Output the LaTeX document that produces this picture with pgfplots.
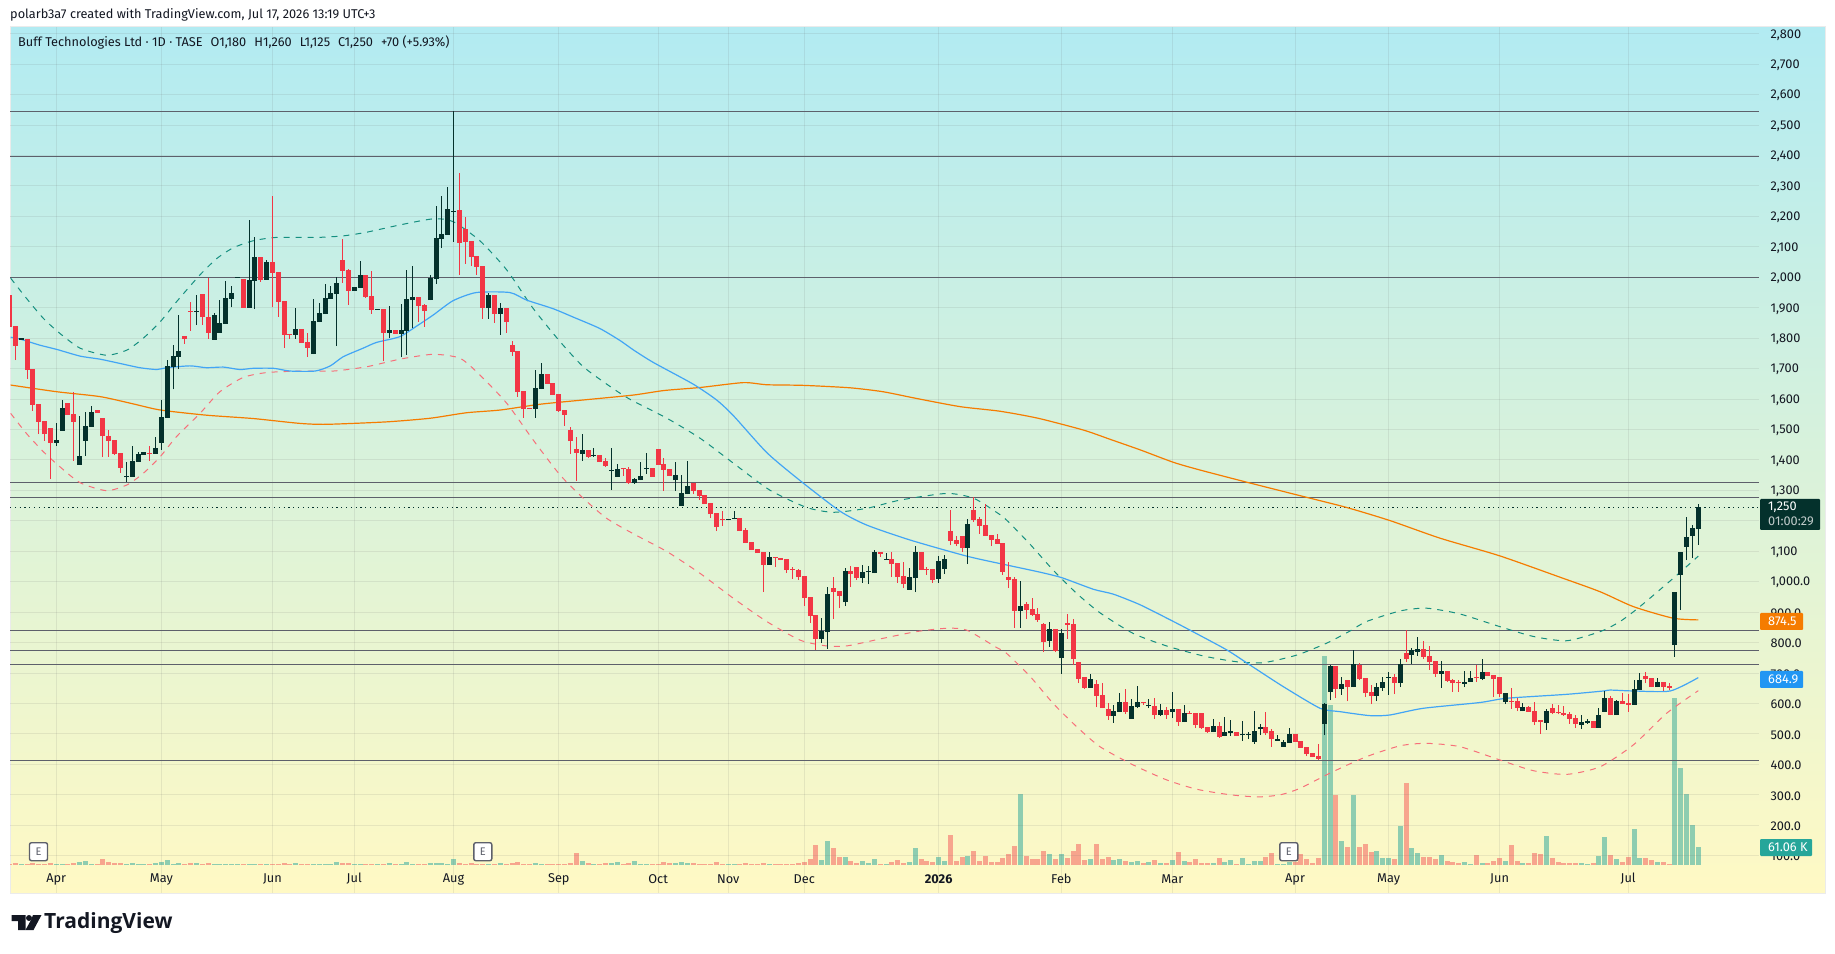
\documentclass[border=0pt]{standalone}
\usepackage{pgfplots}
\usepackage{pgfplotstable}
\pgfplotsset{compat=1.18}
\usepackage{fontspec}
\setmainfont{Fira Sans}
\newfontfamily\logofont{Open Sans}
\definecolor{upc}{HTML}{04312C}
\definecolor{dnc}{HTML}{F23645}
\definecolor{volup}{HTML}{8ECDB0}
\definecolor{voldn}{HTML}{F7A58D}
\definecolor{txt}{HTML}{131722}
\definecolor{lvl}{HTML}{5D606B}
\definecolor{mablue}{HTML}{42A5F5}
\definecolor{maor}{HTML}{F57C00}
\definecolor{bbup}{HTML}{158F80}
\definecolor{bbdn}{HTML}{F7707A}
\definecolor{bgtop}{HTML}{B2EBF2}
\definecolor{bgbot}{HTML}{FFF9C4}
\definecolor{tagblue}{HTML}{2196F3}
\definecolor{tagteal}{HTML}{26A69A}
\pgfplotstableread{
x o h l c v
0 1942 1945 1838 1838 2.3
1 1840 1840 1728 1775 5.6
2 1795 1798 1795 1798 2.3
3 1797 1797 1666 1697 2.3
4 1699 1699 1562 1581 6.8
5 1584 1584 1485 1525 2.3
6 1528 1528 1463 1485 2.3
7 1505 1505 1337 1457 5.6
8 1457 1520 1446 1465 2.3
9 1496 1597 1496 1571 2.3
10 1587 1587 1549 1549 2.3
11 1551 1624 1398 1525 5.6
12 1384 1544 1384 1413 10.2
13 1463 1558 1413 1512 13.6
14 1509 1577 1509 1558 2.3
15 1564 1564 1555 1555 2.3
16 1538 1538 1409 1477 20.3
17 1479 1498 1411 1463 10.2
18 1465 1465 1416 1420 5.6
19 1424 1424 1358 1374 5.6
20 1343 1393 1329 1345 2.3
21 1345 1446 1345 1397 5.6
22 1394 1427 1394 1420 2.3
23 1417 1426 1417 1426 2.3
24 1424 1446 1398 1420 2.3
25 1420 1474 1420 1439 5.6
26 1457 1597 1433 1541 10.2
27 1539 1728 1539 1709 17
28 1706 1778 1632 1742 2.3
29 1739 1876 1698 1758 5.6
30 1807 1807 1781 1797 2.3
31 1890 1919 1825 1886 5.6
32 1886 1942 1843 1888 5.6
33 1945 1945 1844 1869 2.3
34 1871 1999 1798 1818 5.6
35 1795 1884 1795 1876 2.3
36 1818 1925 1818 1850 2.3
37 1848 1988 1848 1932 2.3
38 1930 1971 1901 1948 2.3
39 1998 2000 1998 2000 2.3
40 1993 1993 1900 1900 2.3
41 1900 2188 1900 1991 2.3
42 1989 2131 1897 2067 2.3
43 2067 2067 1985 1991 2.3
44 1992 2057 1992 2050 2.3
45 2050 2267 1904 2015 2.3
46 2017 2017 1871 1920 2.3
47 1922 1922 1769 1812 5.6
48 1814 1814 1798 1811 2.3
49 1812 1899 1798 1830 5.6
50 1830 1830 1784 1784 2.3
51 1788 1818 1739 1768 2.3
52 1748 1929 1748 1856 2.3
53 1853 1917 1853 1883 2.3
54 1879 1978 1879 1932 2.3
55 1930 1971 1930 1948 2.3
56 1945 2000 1774 1981 10.2
57 2057 2126 1982 2021 5.6
58 2024 2027 1909 1955 5.6
59 1955 1968 1955 1968 2.3
60 1965 2054 1965 2008 2.3
61 2008 2008 1932 1935 2.3
62 1939 2021 1880 1893 2.3
63 1893 1895 1893 1895 2.3
64 1896 1896 1725 1817 2.3
65 1817 1906 1801 1827 5.6
66 1827 1827 1814 1814 2.3
67 1814 1912 1738 1827 2.3
68 1824 2024 1745 1929 10.2
69 1925 2037 1832 1935 2.3
70 1935 1935 1854 1906 2.3
71 1909 1912 1838 1889 2.3
72 1925 2008 1925 1998 5.6
73 1994 2234 1978 2129 5.6
74 2126 2267 2096 2142 5.6
75 2139 2297 2139 2224 2.3
76 2214 2545 2116 2219 20.3
77 2221 2343 2008 2113 5.6
78 2159 2198 2044 2116 2.3
79 2119 2119 2037 2067 5.6
80 2070 2070 2008 2035 2.3
81 2037 2037 1864 1899 2.3
82 1899 1950 1864 1942 2.3
83 1942 1942 1851 1880 2.3
84 1880 1916 1812 1899 5.6
85 1899 1899 1818 1853 2.3
86 1778 1791 1743 1756 5.6
87 1758 1758 1607 1623 9
88 1627 1627 1539 1567 2.3
89 1570 1570 1567 1567 2.3
90 1567 1696 1539 1636 5.6
91 1633 1718 1633 1682 2.3
92 1682 1682 1650 1650 2.3
93 1653 1653 1613 1613 2.3
94 1617 1617 1558 1561 2.3
95 1564 1564 1513 1548 2.3
96 1498 1508 1420 1462 5.6
97 1436 1475 1331 1423 40.7
98 1420 1485 1397 1433 13.6
99 1433 1433 1406 1410 5.6
100 1412 1439 1410 1414 2.3
101 1416 1416 1393 1393 2.3
102 1397 1406 1376 1380 5.6
103 1364 1439 1301 1366 5.6
104 1344 1387 1344 1370 9
105 1371 1373 1347 1369 2.3
106 1370 1377 1321 1324 5.6
107 1324 1341 1321 1337 13.6
108 1334 1393 1334 1347 2.3
109 1371 1423 1354 1373 2.3
110 1374 1374 1344 1344 2.3
111 1436 1436 1384 1384 2.3
112 1387 1406 1298 1367 10.2
113 1370 1370 1347 1347 5.6
114 1334 1393 1298 1351 5.6
115 1250 1350 1250 1291 9
116 1288 1396 1288 1314 5.6
117 1324 1324 1288 1298 5.6
118 1301 1301 1268 1281 2.3
119 1285 1285 1255 1255 2.3
120 1258 1258 1209 1222 2.3
121 1226 1226 1166 1180 9
122 1205 1232 1183 1203 2.3
123 1203 1207 1203 1207 2.3
124 1206 1232 1205 1208 2.3
125 1209 1209 1166 1166 2.3
126 1170 1176 1127 1127 5.6
127 1130 1130 1104 1104 2.3
128 1107 1107 1094 1094 2.3
129 1097 1097 966 1055 5.6
130 1055 1097 1055 1081 2.3
131 1080 1080 1048 1078 2.3
132 1078 1078 1071 1071 2.3
133 1074 1074 1028 1038 2.3
134 1041 1048 1009 1039 2.3
135 1038 1042 1005 1015 5.6
136 1019 1019 920 946 10.2
137 950 950 864 887 20.3
138 890 890 775 812 67.8
139 812 881 798 839 17
140 835 982 779 959 81.4
141 979 1015 877 966 57.6
142 969 969 913 953 27.1
143 933 1045 920 1035 27.1
144 1035 1051 982 1025 13.6
145 1048 1048 1005 1012 5.6
146 1012 1055 996 1032 13.6
147 1031 1051 992 1033 5.6
148 1028 1104 1028 1097 20.3
149 1097 1097 1081 1091 2.3
150 1072 1094 1072 1074 2.3
151 1074 1097 1015 1058 10.2
152 1061 1061 996 1015 17
153 1019 1065 979 992 5.6
154 973 1045 973 1015 10.2
155 1012 1117 966 1097 57.6
156 1097 1097 1038 1038 20.3
157 1042 1048 1022 1038 13.6
158 1041 1041 996 1005 10.2
159 1009 1084 996 1068 27.1
160 1042 1088 1025 1074 13.6
161 1165 1235 1120 1134 101.7
162 1137 1150 1117 1124 13.6
163 1150 1150 1097 1111 27.1
164 1111 1206 1058 1189 30.5
165 1235 1277 1196 1203 47.5
166 1206 1212 1157 1183 13.6
167 1186 1255 1150 1150 30.5
168 1153 1153 1117 1137 10.2
169 1140 1157 1124 1124 10.2
170 1127 1127 1022 1032 23.7
171 1015 1065 979 1006 37.3
172 1009 1015 848 904 64.4
173 904 1002 848 920 241
174 927 933 877 907 30.5
175 910 947 887 891 20.3
176 894 914 868 874 20.3
177 861 864 769 802 47.5
178 805 868 786 845 37.3
179 845 845 769 772 20.3
180 749 845 697 832 37.3
181 864 894 812 858 23.7
182 861 878 726 746 47.5
183 736 736 667 680 71.2
184 687 687 648 651 17
185 651 697 651 680 20.3
186 664 677 588 625 71.2
187 628 667 585 585 20.3
188 582 602 546 559 27.1
189 559 595 536 575 17
190 572 634 572 605 20.3
191 605 648 565 572 13.6
192 549 615 549 592 10.2
193 588 657 585 605 13.6
194 605 605 595 602 6.8
195 590 615 585 592 10.2
196 592 618 549 562 17
197 562 598 559 579 6.8
198 579 588 549 562 6.8
199 572 638 552 582 17
200 582 582 526 539 44.1
201 539 595 539 569 13.6
202 569 575 565 565 10.2
203 569 569 519 529 20.3
204 569 569 517 519 6.8
205 523 523 503 506 6.8
206 506 549 506 526 6.8
207 526 539 487 490 23.7
208 493 556 493 506 10.2
209 504 546 493 506 17
210 506 506 493 493 3.4
211 495 542 477 497 23.7
212 497 506 483 499 3.4
213 473 575 467 510 13.6
214 516 533 496 523 13.6
215 523 572 496 503 27.1
216 510 516 457 483 40.7
217 478 496 477 480 3.4
218 457 480 457 473 3.4
219 470 519 470 500 10.2
220 500 500 473 473 10.2
221 477 477 454 454 37.3
222 457 457 427 434 20.3
223 437 437 424 424 6.8
224 427 467 414 418 23.7
225 533 602 496 598 709
226 638 726 611 723 542
227 723 723 618 648 237
228 648 687 628 664 81.4
229 677 677 608 654 61
230 654 776 654 730 237
231 726 733 677 680 61
232 684 684 621 634 71.2
233 638 661 598 625 44.1
234 625 667 608 654 47.5
235 651 687 641 671 23.7
236 684 703 628 686 23.7
237 687 697 631 667 20.3
238 667 746 654 730 132
239 766 840 736 746 278
240 759 782 730 776 57.6
241 769 818 756 779 40.7
242 779 805 746 753 27.1
243 756 789 710 736 27.1
244 740 740 687 697 20.3
245 697 740 651 707 33.9
246 707 707 671 674 13.6
247 677 680 638 667 10.2
248 672 677 638 666 6.8
249 664 707 654 671 10.2
250 671 707 671 684 3.4
251 684 726 671 682 33.9
252 680 746 677 703 6.8
253 703 703 690 690 6.8
254 694 694 621 680 13.6
255 687 687 621 631 23.7
256 605 634 598 634 13.6
257 607 651 582 605 67.8
258 608 618 575 585 13.6
259 575 602 575 588 6.8
260 588 592 572 572 6.8
261 575 605 529 539 40.7
262 542 542 500 540 37.3
263 536 582 513 575 98.3
264 585 597 565 569 23.7
265 570 595 564 568 10.2
266 569 592 559 562 6.8
267 565 572 533 549 6.8
268 552 562 520 533 6.8
269 529 562 516 539 6.8
270 536 549 533 542 3.4
271 542 542 520 520 6.8
272 520 585 520 562 30.5
273 572 641 572 618 94.9
274 618 625 562 562 33.9
275 562 611 562 608 20.3
276 608 634 598 598 10.2
277 602 631 572 595 27.1
278 595 677 595 648 122
279 644 700 644 677 23.7
280 690 703 667 680 23.7
281 684 684 654 654 17
282 654 684 654 671 10.2
283 671 671 641 654 10.2
284 657 667 644 651 3.4
285 792 966 754 966 566
286 1022 1098 907 1098 329
287 1114 1214 1071 1147 241
288 1150 1186 1078 1176 135.6
289 1173 1255 1121 1245 61.06
}\candles
\pgfplotstableread{
x y
0.2 1803
1.8 1797
5.2 1777
8.1 1763
12.1 1741
15.5 1731
18.9 1717
22.3 1703
25.2 1697
26.9 1703
30.9 1709
33.7 1703
36.6 1705
39.4 1697
41.7 1701
45.2 1701
48 1692
52.3 1692
54.9 1709
57.1 1739
60.5 1767
62.8 1786
66.8 1805
69.7 1840
72.5 1876
75.9 1923
79.9 1950
85.6 1950
88.5 1925
93 1897
96.5 1869
101 1832
104.5 1792
106.8 1761
110.2 1720
117 1649
121 1597
123.9 1545
129.6 1424
135.3 1332
142.1 1232
146.7 1186
154.1 1137
163.8 1084
170.6 1055
176.4 1031
180.1 1013
185.5 975
188.9 959
193.5 924
199.2 869
201.7 844
208.3 776
212.3 726
218 655
224.3 584
227.7 573
232.8 560
236.2 562
241.9 584
251.6 603
256.2 617
266.5 630
272.8 641
273.9 644
277.9 641
284.2 641
289 684.9
}\mablue
\pgfplotstableread{
x y
0.2 1646
8.1 1624
15.5 1608
21.2 1584
25.8 1564
33.7 1547
41.7 1536
49.7 1520
54.3 1517
64.5 1525
72 1537
78.2 1555
84 1564
90.8 1583
98.2 1597
106.7 1613
112 1628
118.2 1638
125.6 1654
129.6 1647
135.8 1645
143.8 1637
149.5 1624
155.2 1602
162.7 1575
169.5 1560
176 1537
183.8 1498
188.3 1468
193.5 1433
199.2 1392
203.7 1367
211.7 1327
222 1277
228.8 1244
236.2 1201
244.8 1143
255 1085
265.3 1015
272.2 967
277.9 918
284.7 880
289 874.5
}\maorange
\pgfplotstableread{
x y
0.2 1997
2.9 1931
5.8 1865
8.6 1816
12.1 1767
16.6 1744
20.1 1761
22.9 1800
25.8 1854
28.6 1920
32.6 2008
35.5 2062
38.3 2097
41.7 2120
45.7 2131
52.6 2131
57.1 2136
61.1 2148
66.8 2172
72.5 2192
75.9 2183
80.5 2120
85.1 2024
89.6 1898
94.2 1789
98.2 1706
102.8 1641
106.2 1599
112.5 1537
118.2 1471
123.9 1389
130.1 1301
136.4 1244
141 1228
146.7 1241
152.4 1268
160.4 1290
165 1274
168.9 1228
170.6 1203
174.6 1124
178.6 1038
182.6 962
186.6 898
192.3 830
198 789
204.3 756
210 737
214.6 734
220.3 759
225.4 798
229.4 838
232.2 869
238 904
242.5 913
248.2 894
255.1 852
260.8 820
266.5 806
272.2 836
275.6 869
279 918
284.7 1011
289 1084
}\bbupper
\pgfplotstableread{
x y
0.2 1553
2.9 1487
5.8 1427
8.6 1378
12.1 1325
16.6 1299
20.1 1318
22.9 1356
25.8 1411
28.6 1477
32.6 1553
36 1624
40 1671
44 1687
49.7 1692
55.4 1692
61.1 1706
66.8 1731
72.5 1747
77.1 1734
80.5 1679
85.1 1586
89.6 1466
94.2 1351
98.2 1274
102.2 1208
106.8 1157
112.5 1099
118.2 1027
123.9 945
129.6 869
135.3 808
139.8 789
143.3 789
149.5 814
155.2 836
160.4 847
163.8 841
168.9 784
170.6 765
174.6 690
178.6 600
182.6 524
186.6 458
192.3 398
198 349
203.2 318
208.9 300
213.7 293
217.5 300
220.8 321
226.5 376
232.2 425
238 461
242.5 469
248.2 458
255.1 414
260.8 379
266.5 367
272.2 392
277.9 464
283.6 568
289 642
}\bblower
\begin{document}
\begin{tikzpicture}[x=1pt,y=1pt]
\useasboundingbox (0,0) rectangle (1835,953);
\fill[white] (0,0) rectangle (1835,953);
\draw[line width=1pt,draw=black!8,top color=bgtop,bottom color=bgbot] (10,60) rectangle (1825,926);
% volume pane
\begin{axis}[
  at={(10pt,60pt)},anchor=south west,scale only axis,width=1749pt,height=866pt,
  xmin=0.086,xmax=299.39,ymin=-94.9,ymax=2841,hide axis]
\addplot[draw=none,mark=none,forget plot,error bars/.cd,y dir=plus,y explicit,error mark=none,
  error bar style={line width=5pt,draw=volup}]
  table[x=x,y expr={\thisrow{c}>=\thisrow{o} ? 0 : nan},y error plus expr=\thisrow{v}] {\candles};
\addplot[draw=none,mark=none,forget plot,error bars/.cd,y dir=plus,y explicit,error mark=none,
  error bar style={line width=5pt,draw=voldn}]
  table[x=x,y expr={\thisrow{c}<\thisrow{o} ? 0 : nan},y error plus expr=\thisrow{v}] {\candles};
\end{axis}
% price pane
\begin{axis}[
  at={(10pt,60pt)},anchor=south west,scale only axis,width=1749pt,height=866pt,
  xmin=0.086,xmax=299.39,ymin=-22.7,ymax=2822.3,
  axis line style={draw=none},
  major tick length=0pt,
  xtick={8,26,45,59,76,94,111,123,136,159,180,199,220,236,255,277},
  xticklabels={Apr,May,Jun,Jul,Aug,Sep,Oct,Nov,Dec,\textbf{2026},Feb,Mar,Apr,May,Jun,Jul},
  ytick={100,200,...,2800},
  yticklabels={100.0,200.0,300.0,400.0,500.0,600.0,700.0,800.0,900.0,{1,000.0},{1,100},{1,200},{1,300},{1,400},{1,500},{1,600},{1,700},{1,800},{1,900},{2,000},{2,100},{2,200},{2,300},{2,400},{2,500},{2,600},{2,700},{2,800}},
  yticklabel pos=right,
  tick label style={font=\fontsize{12.75}{14}\selectfont,text=txt},
  x tick label style={anchor=center,yshift=14pt},
  y tick label style={anchor=west,xshift=8pt,yshift=-1pt},
  grid=major,
  grid style={line width=1pt,black!60,opacity=0.12},
  unbounded coords=discard,
]
% levels
\addplot[lvl,line width=1pt,forget plot] coordinates {(0.086,2545)(299.39,2545)};
\addplot[lvl,line width=1pt,forget plot] coordinates {(0.086,2398)(299.39,2398)};
\addplot[lvl,line width=1pt,forget plot] coordinates {(0.086,2000)(299.39,2000)};
\addplot[lvl,line width=1pt,forget plot] coordinates {(0.086,1327)(299.39,1327)};
\addplot[lvl,line width=1pt,forget plot] coordinates {(0.086,1277)(299.39,1277)};
\addplot[lvl,line width=1pt,forget plot] coordinates {(0.086,840)(299.39,840)};
\addplot[lvl,line width=1pt,forget plot] coordinates {(0.086,775)(299.39,775)};
\addplot[lvl,line width=1pt,forget plot] coordinates {(0.086,729)(299.39,729)};
\addplot[lvl,line width=1pt,forget plot] coordinates {(0.086,413)(299.39,413)};
\addplot[upc,line width=1pt,dash pattern=on 1.2pt off 3.6pt,forget plot] coordinates {(0.086,1245)(299.39,1245)};
% moving averages and bands
\addplot[maor,line width=1.2pt,smooth,tension=0.4,forget plot] table[x=x,y=y] {\maorange};
\addplot[bbup,line width=1pt,dash pattern=on 6pt off 6pt,smooth,tension=0.4,forget plot] table[x=x,y=y] {\bbupper};
\addplot[bbdn,line width=1pt,dash pattern=on 6pt off 6pt,smooth,tension=0.4,forget plot] table[x=x,y=y] {\bblower};
\addplot[mablue,line width=1.2pt,smooth,tension=0.4,forget plot] table[x=x,y=y] {\mablue};
% wicks
\addplot[draw=none,mark=none,forget plot,error bars/.cd,y dir=plus,y explicit,error mark=none,
  error bar style={line width=1pt,draw=upc}]
  table[x=x,y expr={\thisrow{c}>=\thisrow{o} ? \thisrow{l} : nan},y error plus expr=\thisrow{h}-\thisrow{l}] {\candles};
\addplot[draw=none,mark=none,forget plot,error bars/.cd,y dir=plus,y explicit,error mark=none,
  error bar style={line width=1pt,draw=dnc}]
  table[x=x,y expr={\thisrow{c}<\thisrow{o} ? \thisrow{l} : nan},y error plus expr=\thisrow{h}-\thisrow{l}] {\candles};
% bodies
\addplot[draw=none,mark=none,forget plot,error bars/.cd,y dir=plus,y explicit,error mark=none,
  error bar style={line width=5pt,draw=upc}]
  table[x=x,y expr={\thisrow{c}>=\thisrow{o} ? \thisrow{o} : nan},y error plus expr={max(\thisrow{c}-\thisrow{o},4)}] {\candles};
\addplot[draw=none,mark=none,forget plot,error bars/.cd,y dir=plus,y explicit,error mark=none,
  error bar style={line width=5pt,draw=dnc}]
  table[x=x,y expr={\thisrow{c}<\thisrow{o} ? \thisrow{c} : nan},y error plus expr={max(\thisrow{o}-\thisrow{c},4)}] {\candles};
\end{axis}
% header
\node[anchor=west,inner sep=0pt,text=txt,font=\fontsize{12.75}{14}\selectfont] at (10,938) {polarb3a7 created with TradingView.com, Jul 17, 2026 13:19 UTC+3};
\node[anchor=west,inner sep=0pt,text=txt,font=\fontsize{12.75}{14}\selectfont] at (18,911) {Buff Technologies Ltd · 1D · TASE\hspace{8pt}O1,180\hspace{8pt}H1,260\hspace{8pt}L1,125\hspace{8pt}C1,250\hspace{8pt}+70 (+5.93\%)};
% price badges
\fill[upc,rounded corners=1pt] (1760,423) rectangle (1820,454);
\node[anchor=west,inner sep=0pt,text=white,font=\fontsize{12.75}{14}\selectfont] at (1768,446) {1,250};
\node[anchor=west,inner sep=0pt,text=white!75!upc,font=\fontsize{12.75}{14}\selectfont] at (1768,432) {01:00:29};
\fill[maor,rounded corners=1pt] (1760,323) rectangle (1803,340);
\node[anchor=west,inner sep=0pt,text=white,font=\fontsize{12.75}{14}\selectfont] at (1768,331.5) {874.5};
\fill[tagblue,rounded corners=1pt] (1760,265) rectangle (1803,282);
\node[anchor=west,inner sep=0pt,text=white,font=\fontsize{12.75}{14}\selectfont] at (1768,273.5) {684.9};
\fill[tagteal,rounded corners=1pt] (1760,97) rectangle (1812,114);
\node[anchor=west,inner sep=0pt,text=white,font=\fontsize{12.75}{14}\selectfont] at (1768,105.5) {61.06 K};
% earnings flags
\foreach \ex in {38.5,482.8,1288.8}{
  \node[draw=lvl,line width=1.4pt,fill=white,rounded corners=2pt,minimum size=18pt,inner sep=0pt,text=lvl,font=\fontsize{11}{12}\selectfont] at (\ex,101.3) {E};
}
% logo
\fill[txt] (11.5,38) -- (25.5,38) -- (25.5,23) -- (18,23) -- (18,32) -- (11.5,32) -- cycle;
\fill[txt] (29,35) circle (3);
\fill[txt] (33,38) -- (41.5,38) -- (33.5,23) -- (25.5,23) -- (31,33) -- cycle;
\node[anchor=west,inner sep=0pt,text=txt,font=\logofont\bfseries\fontsize{21}{24}\selectfont] at (44,30) {TradingView};
\end{tikzpicture}
\end{document}
